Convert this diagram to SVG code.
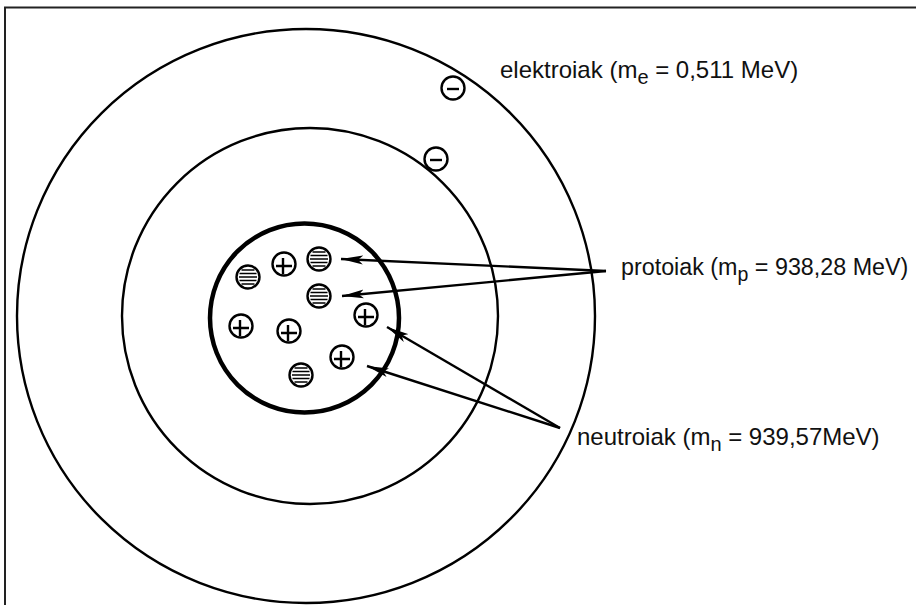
<svg xmlns="http://www.w3.org/2000/svg" width="916" height="605" viewBox="0 0 916 605">
<style>
.orb{fill:none;stroke:#000;stroke-width:2.4}
.lbl{font-family:"Liberation Sans",Arial,sans-serif;font-size:24px;fill:#111}
.sub{font-size:20px}
.pc{fill:#fff;stroke:#000;stroke-width:2.4}
.pl{stroke:#000;stroke-width:2.4;fill:none}
.st{stroke:#000;stroke-width:1.3;fill:none}
.con{stroke:#000;stroke-width:2.4;fill:none;marker-end:url(#ah)}
</style>
<defs>
<marker id="ah" markerUnits="userSpaceOnUse" viewBox="0 0 22 10" refX="22" refY="5" markerWidth="22" markerHeight="10" orient="auto">
<path d="M0,0.5 L22,5 L0,9.5 L5,5 Z" fill="#000"/>
</marker>
<g id="plus"><circle class="pc" r="11.5"/><path class="pl" d="M-8,2 H8 M-1,-6 V10"/></g>
<g id="strip"><circle class="pc" r="11.5"/><path class="st" d="M-6.5,-7 H6.5 M-8.5,-3.5 H8.5 M-9,0 H9 M-8.5,3.5 H8.5 M-6.5,7 H6.5"/></g>
<g id="minus"><circle class="pc" r="11.5"/><path class="pl" d="M-6,1 H6"/></g>
</defs>
<rect x="0" y="0" width="916" height="605" fill="#fff"/>
<rect x="5" y="7.5" width="1000" height="1000" fill="none" stroke="#222" stroke-width="2"/>
<g id="orbit-outer"><ellipse class="orb" cx="306" cy="316" rx="289" ry="287"/></g>
<g id="orbit-inner"><circle class="orb" cx="310" cy="316" r="188"/></g>
<g id="nucleus"><circle cx="304.5" cy="318" r="94.5" fill="none" stroke="#000" stroke-width="4.5"/></g>
<g id="electron1"><use href="#minus" x="453" y="88"/></g>
<g id="electron2"><use href="#minus" x="436" y="159"/></g>
<g id="particles">
<use href="#strip" x="248" y="277"/>
<use href="#plus" x="284" y="264"/>
<use href="#strip" x="319" y="259"/>
<use href="#strip" x="319" y="296"/>
<use href="#plus" x="366" y="315"/>
<use href="#plus" x="241" y="326"/>
<use href="#plus" x="289" y="331"/>
<use href="#plus" x="342" y="357"/>
<use href="#strip" x="301" y="375"/>
</g>
<g id="connectors">
<line class="con" x1="606" y1="271" x2="341" y2="259"/>
<line class="con" x1="606" y1="271" x2="342" y2="296"/>
<line class="con" x1="560" y1="428" x2="387" y2="327"/>
<line class="con" x1="560" y1="428" x2="367" y2="366"/>
</g>
<g id="label-elektroiak"><text class="lbl" x="500" y="78">elektroiak (m<tspan class="sub" dy="6">e</tspan><tspan dy="-6"> = 0,511 MeV)</tspan></text></g>
<g id="label-protoiak"><text class="lbl" x="621" y="275" style="font-size:23.3px">protoiak (m<tspan style="font-size:19.5px" dy="6">p</tspan><tspan dy="-6"> = 938,28 MeV)</tspan></text></g>
<g id="label-neutroiak"><text class="lbl" x="577" y="445">neutroiak (m<tspan class="sub" dy="6">n</tspan><tspan dy="-6"> = 939,57MeV)</tspan></text></g>
</svg>
